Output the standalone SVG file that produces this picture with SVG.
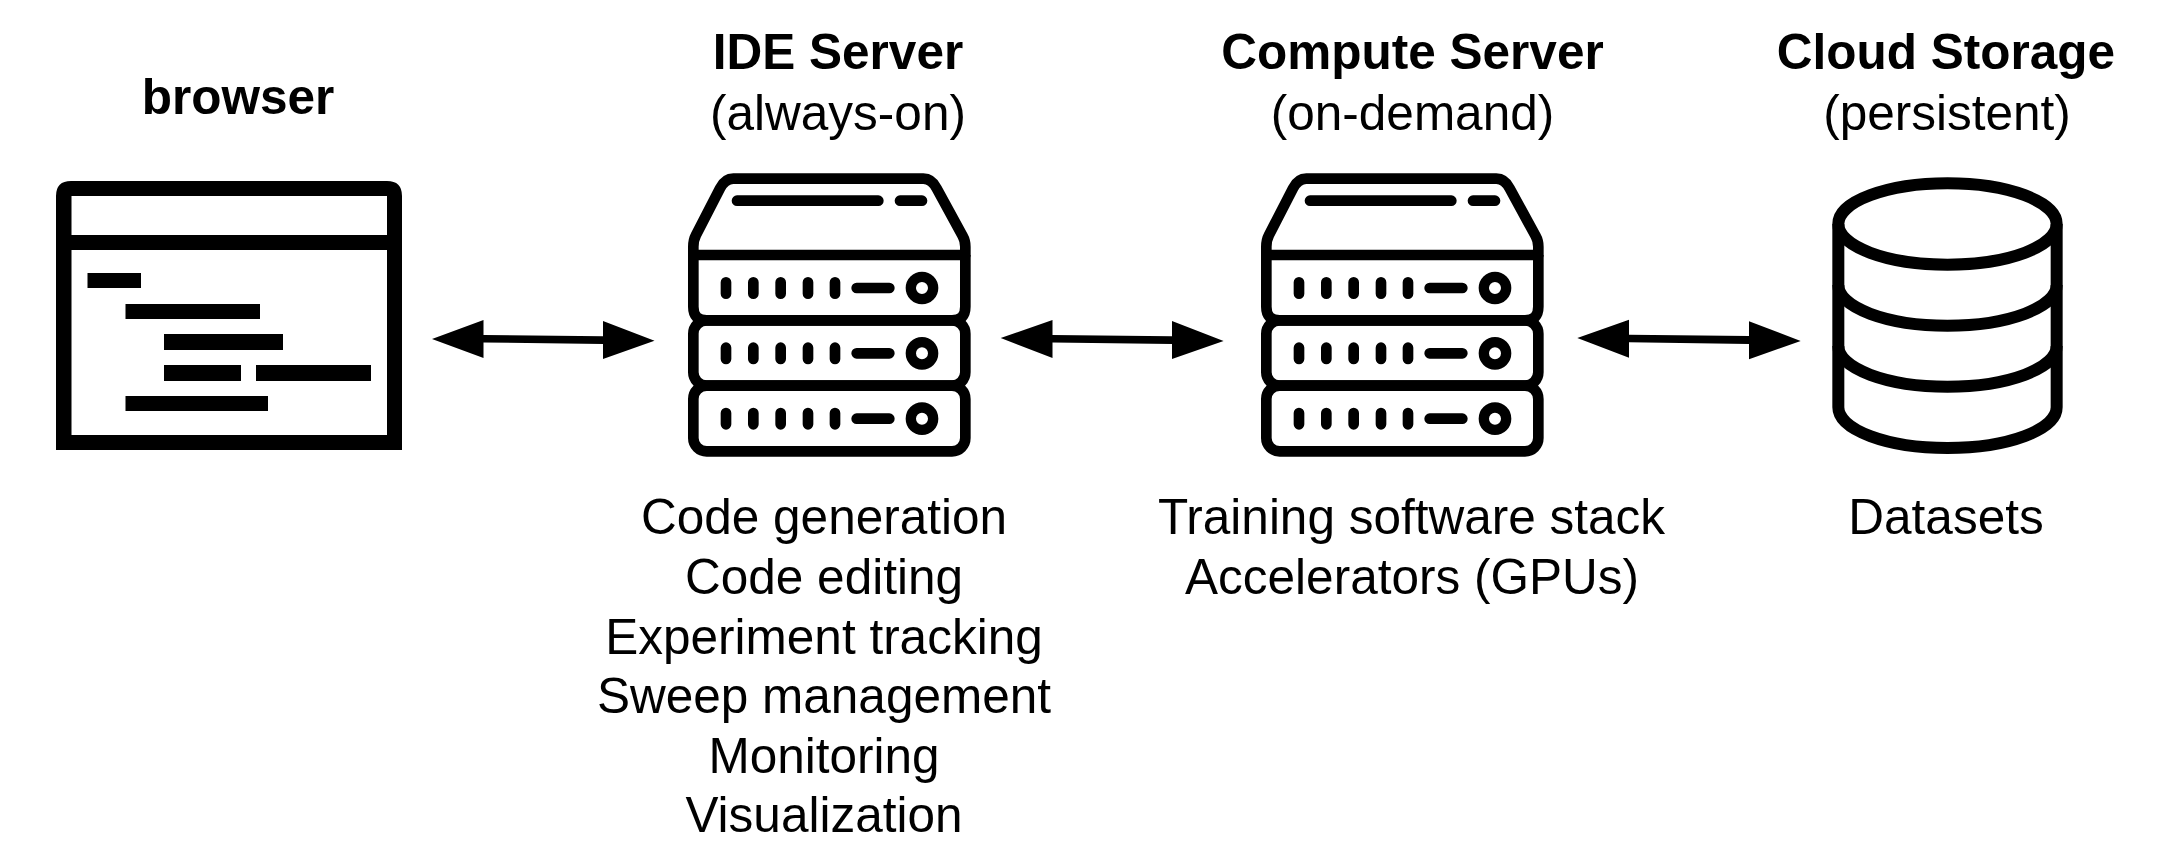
<svg xmlns="http://www.w3.org/2000/svg" width="2159" height="868" viewBox="0 0 2159 868">
<style>
text{font-family:"Liberation Sans",Arial,sans-serif;font-size:49.5px;fill:#000;text-anchor:middle}
.b{font-weight:700}
.ic{fill:none;stroke:#000}
.bar{fill:#000}
</style>
<defs>
<g id="led">
<path d="M168 397V431M250 397V431M332 397V431M414 397V431M495 397V431M560 414H658" stroke-width="32" stroke-linecap="round" fill="none" stroke="#000"/>
<circle cx="756" cy="414" r="33.5" stroke-width="31" fill="none" stroke="#000"/>
</g>
<g id="srv" transform="scale(0.33333)">
<g class="ic" stroke-width="32" stroke-linejoin="round">
<path d="M70 315V290Q70 270 78 255L150 115Q165 86 190 86H760Q785 86 800 115L878 258Q886 272 886 290V315Z"/>
<path d="M70 315V470Q70 511 110 511H846Q886 511 886 470V315"/>
<rect x="70" y="511" width="816" height="196" rx="40"/>
<rect x="70" y="707" width="816" height="197" rx="40"/>
<path d="M201 152H625M690 152H756" stroke-width="32" stroke-linecap="round"/>
</g>
<use href="#led"/>
<use href="#led" y="196"/>
<use href="#led" y="392"/>
</g>
</defs>
<g id="connectors">
<path class="bar" d="M432 339L483.5 320V335L603 336.3V321L654.5 340.7L603 359V344L483.5 342.5V358Z"/>
<path class="bar" d="M1000.7 338L1052.5 320V335L1172 336.3V321L1223.6 341L1172 359V344L1052.5 342.5V358Z"/>
<path class="bar" d="M1577.3 338L1629 319.7V334.7L1749 336V321.3L1800.7 341L1749 359.3V344L1629 342.3V357.7Z"/>
</g>
<g id="browser">
<text class="b" x="238" y="114">browser</text>
<path d="M56 450V196Q56 181 71 181H387Q402 181 402 196V450ZM71.5 196V435H387V196Z" fill="#000" fill-rule="evenodd"/>
<rect class="bar" x="71" y="235" width="316" height="15"/>
<rect class="bar" x="87.5" y="273" width="53.5" height="15"/>
<rect class="bar" x="125.5" y="304" width="134.5" height="15"/>
<rect class="bar" x="164" y="334" width="119" height="16"/>
<rect class="bar" x="164" y="365" width="77" height="16"/>
<rect class="bar" x="256" y="365" width="115" height="16"/>
<rect class="bar" x="125.5" y="396" width="142.5" height="15"/>
</g>
<g id="ide-server">
<text class="b" x="838" y="69">IDE Server</text>
<text x="838" y="130">(always-on)</text>
<use href="#srv" x="670" y="150"/>
<text x="824" y="534">Code generation</text>
<text x="824" y="593.5">Code editing</text>
<text x="824" y="653.5">Experiment tracking</text>
<text x="824" y="713">Sweep management</text>
<text x="824" y="772.5">Monitoring</text>
<text x="824" y="832">Visualization</text>
</g>
<g id="compute-server">
<text class="b" x="1412.5" y="69">Compute Server</text>
<text x="1412.5" y="130">(on-demand)</text>
<use href="#srv" x="1243" y="150"/>
<text x="1411.5" y="534">Training software stack</text>
<text x="1412" y="593.5">Accelerators (GPUs)</text>
</g>
<g id="cloud-storage">
<text class="b" x="1946" y="69">Cloud Storage</text>
<text x="1947" y="130">(persistent)</text>
<g class="ic" transform="translate(1560 150) scale(0.33333)" stroke-width="36">
<ellipse cx="1162.5" cy="222" rx="327.5" ry="122"/>
<path d="M835 222V772A327.5 122 0 0 0 1490 772V222"/>
<path d="M835 405A327.5 122 0 0 0 1490 405"/>
<path d="M835 588A327.5 122 0 0 0 1490 588"/>
</g>
<text x="1946" y="534">Datasets</text>
</g>
</svg>
